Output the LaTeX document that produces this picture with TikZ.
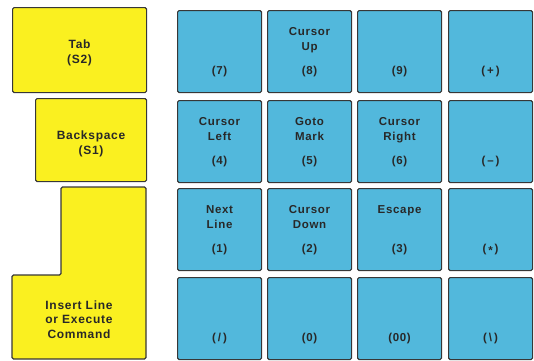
\documentclass[tikz,border=0pt]{standalone}
\usepackage{fontspec}
\setmainfont{Liberation Sans}
\newfontfamily\keyfont[LetterSpace=6]{Liberation Sans}
\usetikzlibrary{positioning}
\definecolor{keyblue}{RGB}{82,184,220}
\definecolor{keyyellow}{RGB}{250,240,32}
\definecolor{keyedge}{RGB}{55,55,55}
\definecolor{keyink}{RGB}{40,40,40}

\begin{document}
\begin{tikzpicture}[x=1pt, y=-1pt,
    bluekey/.style={draw=keyedge, line width=1.1pt, fill=keyblue, rounded corners=1.5pt,
        minimum width=84pt, minimum height=82pt, anchor=north west, inner sep=0pt},
    yellowkey/.style={draw=keyedge, line width=1.1pt, fill=keyyellow, rounded corners=1.5pt,
        anchor=north west, inner sep=0pt},
    keylabel/.style={font=\keyfont\bfseries\fontsize{11.5}{15}\selectfont, text=keyink,
        align=center, inner sep=0pt, anchor=base},
    sidelabel/.style={keylabel, font=\keyfont\bfseries\fontsize{12}{14.5}\selectfont}]
        \useasboundingbox (0,0) rectangle (534,360);

        % Yellow keys (base anchor sits on the last line)
        \node[yellowkey, minimum width=134pt, minimum height=85pt] (tab) at (12,7) {};
        \node[sidelabel] (tabtxt) at ([yshift=-56pt]tab.north) {Tab\\(S2)};
        \node[yellowkey, minimum width=111pt, minimum height=83pt] (bksp) at (35,98) {};
        \node[sidelabel] (bksptxt) at ([yshift=-56pt]bksp.north) {Backspace\\(S1)};
        \draw[keyedge, line width=1.1pt, fill=keyyellow, rounded corners=1.5pt]
            (61,187) -- (146,187) -- (146,359) -- (12,359) -- (12,275) -- (61,275) -- cycle;
        \node[sidelabel] (instxt) at (79,338) {Insert Line\\or Execute\\Command};

        % Row 1
        \node[bluekey] (k7) at (177,10) {};
        \node[bluekey] (k8) at (267,10) {};
        \node[bluekey] (k9) at (357,10) {};
        \node[bluekey] (kplus) at (448,10) {};
        \node[keylabel] (k8txt) at ([yshift=-40pt]k8.north) {Cursor\\Up};
        \node[keylabel] (k7num) at ([yshift=-64pt]k7.north) {(7)};
        \node[keylabel] (k8num) at ([yshift=-64pt]k8.north) {(8)};
        \node[keylabel] (k9num) at ([yshift=-64pt]k9.north) {(9)};
        \node[keylabel] (kplusnum) at ([yshift=-64pt]kplus.north) {(\,+\,)};

        % Row 2
        \node[bluekey] (k4) at (177,100) {};
        \node[bluekey] (k5) at (267,100) {};
        \node[bluekey] (k6) at (357,100) {};
        \node[bluekey] (kminus) at (448,100) {};
        \node[keylabel] (k4txt) at ([yshift=-40pt]k4.north) {Cursor\\Left};
        \node[keylabel] (k5txt) at ([yshift=-40pt]k5.north) {Goto\\Mark};
        \node[keylabel] (k6txt) at ([yshift=-40pt]k6.north) {Cursor\\Right};
        \node[keylabel] (k4num) at ([yshift=-64pt]k4.north) {(4)};
        \node[keylabel] (k5num) at ([yshift=-64pt]k5.north) {(5)};
        \node[keylabel] (k6num) at ([yshift=-64pt]k6.north) {(6)};
        \node[keylabel] (kminusnum) at ([yshift=-64pt]kminus.north) {(\,\textendash\,)};

        % Row 3
        \node[bluekey] (k1) at (177,188) {};
        \node[bluekey] (k2) at (267,188) {};
        \node[bluekey] (k3) at (357,188) {};
        \node[bluekey] (kstar) at (448,188) {};
        \node[keylabel] (k1txt) at ([yshift=-40pt]k1.north) {Next\\Line};
        \node[keylabel] (k2txt) at ([yshift=-40pt]k2.north) {Cursor\\Down};
        \node[keylabel] (k3txt) at ([yshift=-25pt]k3.north) {Escape};
        \node[keylabel] (k1num) at ([yshift=-64pt]k1.north) {(1)};
        \node[keylabel] (k2num) at ([yshift=-64pt]k2.north) {(2)};
        \node[keylabel] (k3num) at ([yshift=-64pt]k3.north) {(3)};
        \node[keylabel] (kstarnum) at ([yshift=-64pt]kstar.north) {(\,\raisebox{-2.5pt}{*}\,)};

        % Row 4
        \node[bluekey] (kslash) at (177,277) {};
        \node[bluekey] (k0) at (267,277) {};
        \node[bluekey] (k00) at (357,277) {};
        \node[bluekey] (kbslash) at (448,277) {};
        \node[keylabel] (kslashnum) at ([yshift=-64pt]kslash.north) {(\,/\,)};
        \node[keylabel] (k0num) at ([yshift=-64pt]k0.north) {(0)};
        \node[keylabel] (k00num) at ([yshift=-64pt]k00.north) {(00)};
        \node[keylabel] (kbslashnum) at ([yshift=-64pt]kbslash.north) {(\,\textbackslash\,)};
    \end{tikzpicture}
\end{document}
